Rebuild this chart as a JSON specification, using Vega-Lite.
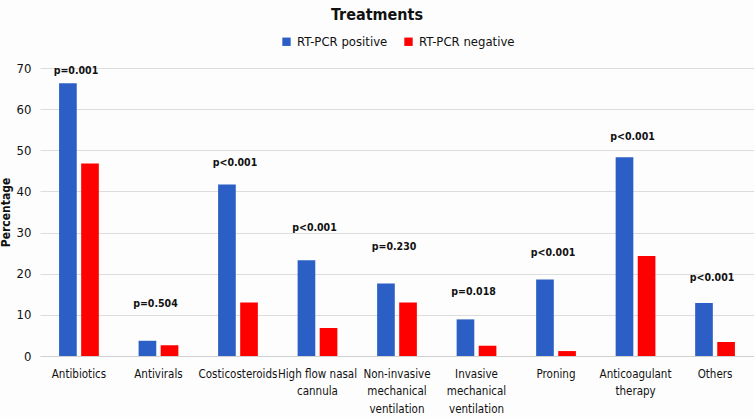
{
  "$schema": "https://vega.github.io/schema/vega-lite/v6.json",
  "width": 714,
  "height": 288,
  "autosize": {"type": "none"},
  "padding": {"left": 40, "top": 68, "right": 0, "bottom": 61},
  "background": "#fdfdfd",
  "title": {
    "text": "Treatments",
    "fontSize": 16,
    "font": "DejaVu Sans Condensed",
    "fontWeight": "bold",
    "color": "#111111",
    "anchor": "middle",
    "dx": -20,
    "offset": 12
  },
  "config": {
    "view": {"stroke": null},
    "font": "DejaVu Sans Condensed"
  },
  "datasets": {
    "bars": [
      {"treatment": "Antibiotics", "group": "RT-PCR positive", "value": 66.3},
      {"treatment": "Antibiotics", "group": "RT-PCR negative", "value": 46.8},
      {"treatment": "Antivirals", "group": "RT-PCR positive", "value": 3.7},
      {"treatment": "Antivirals", "group": "RT-PCR negative", "value": 2.6},
      {"treatment": "Costicosteroids", "group": "RT-PCR positive", "value": 41.7},
      {"treatment": "Costicosteroids", "group": "RT-PCR negative", "value": 13.0},
      {"treatment": "High flow nasal|cannula", "group": "RT-PCR positive", "value": 23.3},
      {"treatment": "High flow nasal|cannula", "group": "RT-PCR negative", "value": 6.8},
      {"treatment": "Non-invasive|mechanical|ventilation", "group": "RT-PCR positive", "value": 17.6},
      {"treatment": "Non-invasive|mechanical|ventilation", "group": "RT-PCR negative", "value": 13.0},
      {"treatment": "Invasive|mechanical|ventilation", "group": "RT-PCR positive", "value": 8.9},
      {"treatment": "Invasive|mechanical|ventilation", "group": "RT-PCR negative", "value": 2.5},
      {"treatment": "Proning", "group": "RT-PCR positive", "value": 18.6},
      {"treatment": "Proning", "group": "RT-PCR negative", "value": 1.2},
      {"treatment": "Anticoagulant|therapy", "group": "RT-PCR positive", "value": 48.3},
      {"treatment": "Anticoagulant|therapy", "group": "RT-PCR negative", "value": 24.3},
      {"treatment": "Others", "group": "RT-PCR positive", "value": 12.9},
      {"treatment": "Others", "group": "RT-PCR negative", "value": 3.4}
    ],
    "labels": [
      {"treatment": "Antibiotics", "p": "p=0.001", "pos": 69.3},
      {"treatment": "Antivirals", "p": "p=0.504", "pos": 12.6},
      {"treatment": "Costicosteroids", "p": "p<0.001", "pos": 47.0},
      {"treatment": "High flow nasal|cannula", "p": "p<0.001", "pos": 31.0},
      {"treatment": "Non-invasive|mechanical|ventilation", "p": "p=0.230", "pos": 26.6},
      {"treatment": "Invasive|mechanical|ventilation", "p": "p=0.018", "pos": 15.6},
      {"treatment": "Proning", "p": "p<0.001", "pos": 25.1},
      {"treatment": "Anticoagulant|therapy", "p": "p<0.001", "pos": 53.2},
      {"treatment": "Others", "p": "p<0.001", "pos": 19.0}
    ]
  },
  "layer": [
    {
      "data": {"name": "bars"},
      "mark": {"type": "bar"},
      "encoding": {
        "x": {
          "field": "treatment",
          "type": "nominal",
          "sort": null,
          "scale": {"paddingInner": 0.5, "paddingOuter": 0.24},
          "axis": {
            "title": null,
            "labelAngle": 0,
            "labelExpr": "split(datum.value, '|')",
            "labelFontSize": 11.5,
            "labelColor": "#111111",
            "labelPadding": 12,
            "labelLineHeight": 17.5,
            "labelOverlap": false,
            "labelLimit": 0,
            "ticks": false,
            "domainColor": "#d0d0d0",
            "labelFont": "DejaVu Sans Condensed"
          }
        },
        "xOffset": {
          "field": "group",
          "sort": ["RT-PCR positive", "RT-PCR negative"],
          "scale": {"paddingInner": 0.2}
        },
        "y": {
          "field": "value",
          "type": "quantitative",
          "scale": {"domain": [0, 70]},
          "axis": {
            "title": "Percentage",
            "titleFontSize": 12,
            "titleFontWeight": "bold",
            "titleColor": "#111111",
            "titlePadding": 4,
            "values": [0, 10, 20, 30, 40, 50, 60, 70],
            "labelFontSize": 13,
            "labelColor": "#111111",
            "labelPadding": 9,
            "ticks": false,
            "domain": false,
            "gridColor": "#dddddd",
            "labelFont": "DejaVu Sans Condensed"
          }
        },
        "color": {
          "field": "group",
          "type": "nominal",
          "sort": ["RT-PCR positive", "RT-PCR negative"],
          "scale": {"domain": ["RT-PCR positive", "RT-PCR negative"], "range": ["#2b5fc6", "#ff0000"]},
          "legend": {
            "title": null,
            "orient": "none",
            "direction": "horizontal",
            "legendX": 240,
            "legendY": -33,
            "symbolType": "square",
            "symbolSize": 70,
            "symbolStrokeWidth": 0,
            "labelFontSize": 13,
            "labelColor": "#111111",
            "columnPadding": 14,
            "labelOffset": 4,
            "labelFont": "DejaVu Sans Condensed"
          }
        }
      }
    },
    {
      "data": {"name": "labels"},
      "mark": {"type": "text", "fontSize": 10.5, "fontWeight": "bold", "color": "#111111", "dx": -3},
      "encoding": {
        "x": {"field": "treatment", "type": "nominal", "sort": null},
        "y": {"field": "pos", "type": "quantitative"},
        "text": {"field": "p"}
      }
    }
  ]
}
